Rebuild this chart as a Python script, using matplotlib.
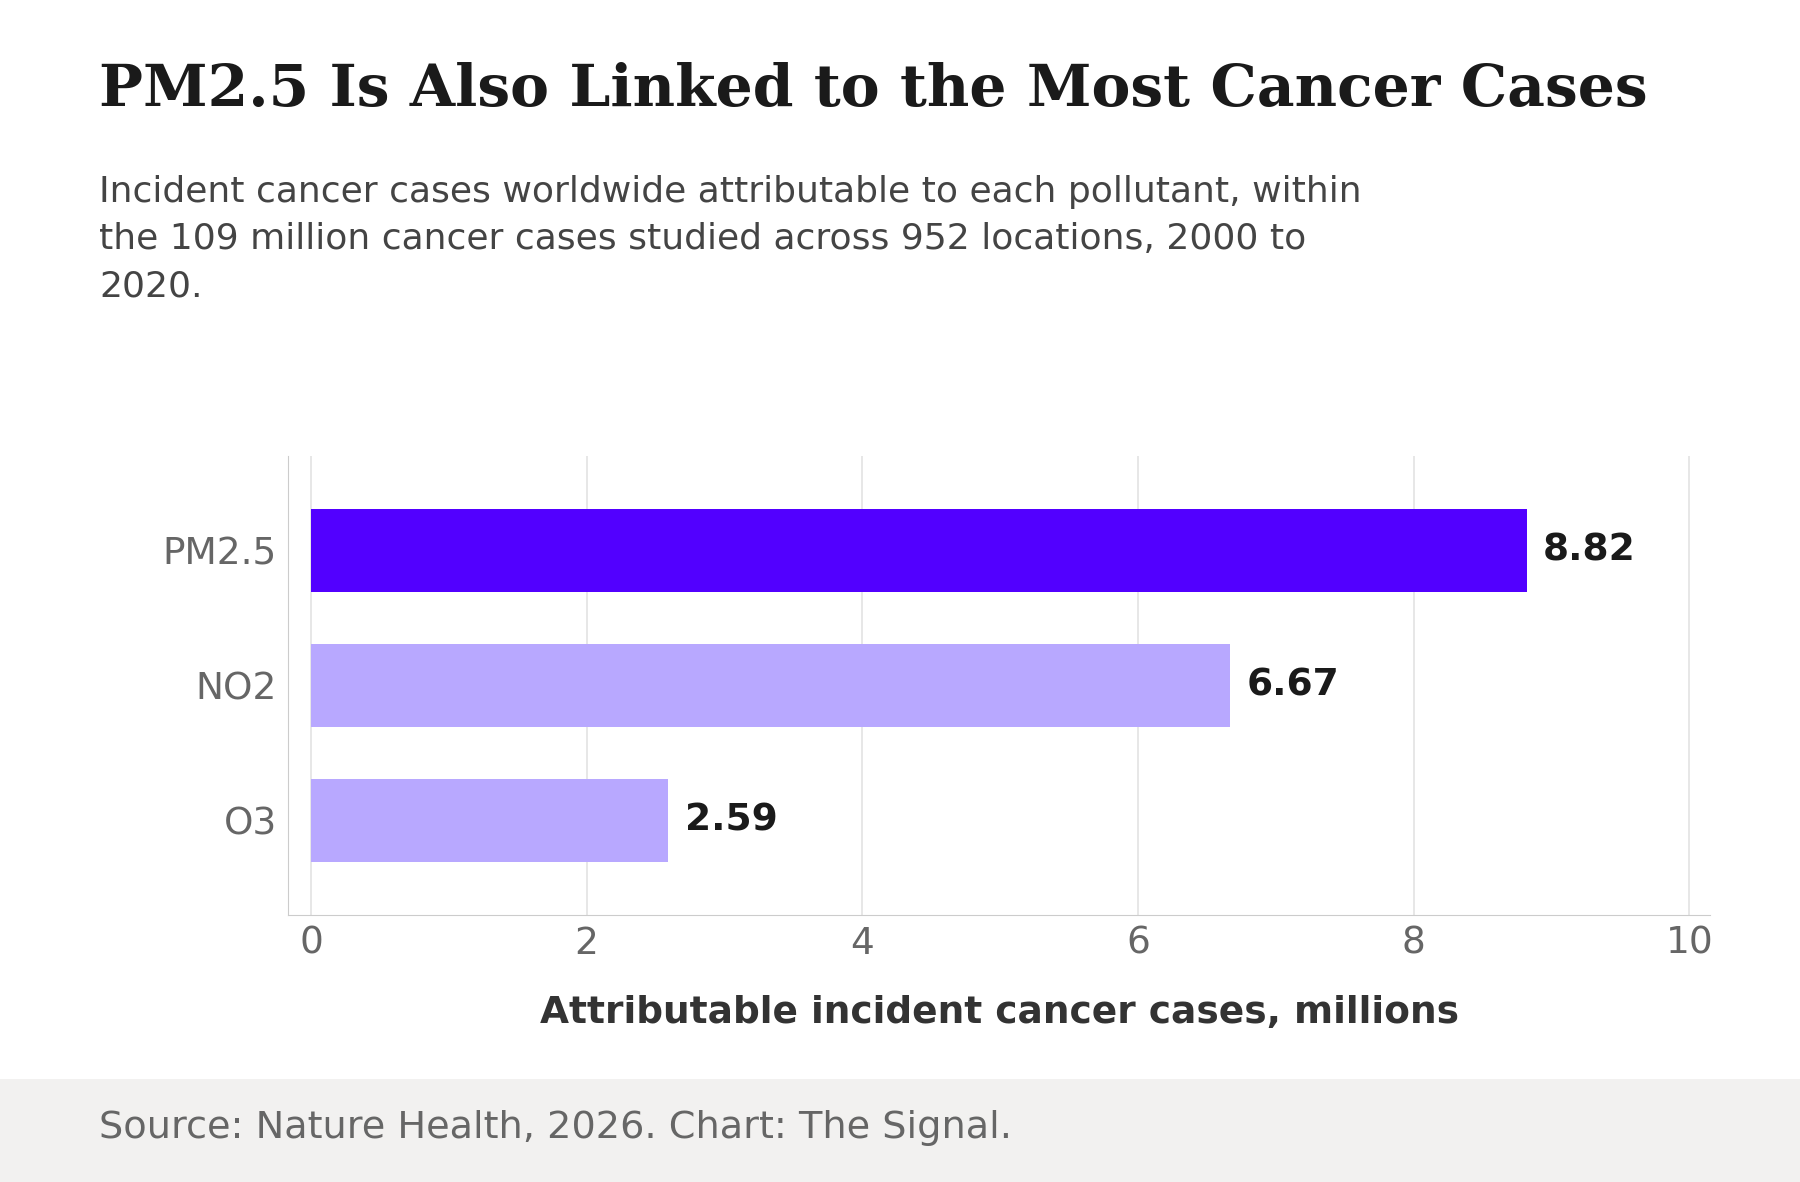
import matplotlib
matplotlib.use("Agg")
import matplotlib.pyplot as plt
from matplotlib.patches import Rectangle

categories = ["PM2.5", "NO2", "O3"]
values = [8.82, 6.67, 2.59]
colors = ["#5200ff", "#b8a8ff", "#b8a8ff"]
xticks = [0, 2, 4, 6, 8, 10]

fig = plt.figure(figsize=(18, 11.82), dpi=100)
fig.patches.append(Rectangle((0, 0), 1, 0.0874, transform=fig.transFigure,
                             facecolor="#f2f1f0", edgecolor="none", zorder=0))
ax = fig.add_axes([0.160, 0.226, 0.790, 0.388])
ypos = list(range(len(categories)))
ax.barh(ypos, values, height=0.615, color=colors, zorder=3)
for y, v in zip(ypos, values):
    ax.text(v + 0.12, y, f"{v:.2f}", va="center", ha="left", fontsize=27,
            fontweight="bold", color="#1a1a1a")
ax.set_yticks(ypos)
ax.set_yticklabels(categories)
ax.set_ylim(2.70, -0.70)
ax.set_xlim(-0.167, 10.15)
ax.set_xticks(xticks)
ax.set_xticklabels([str(t) for t in xticks])
ax.grid(axis="x", color="#e3e3e3", linewidth=1.2, zorder=0)
ax.tick_params(length=0, labelsize=27, labelcolor="#666666", pad=8)
for s in ["top", "right"]:
    ax.spines[s].set_visible(False)
for s in ["left", "bottom"]:
    ax.spines[s].set_color("#cccccc")
ax.set_xlabel("Attributable incident cancer cases, millions", fontsize=27,
              fontweight="bold", color="#333333", labelpad=24)

fig.text(0.055, 0.910, "PM2.5 Is Also Linked to the Most Cancer Cases",
         family="DejaVu Serif", fontweight="bold", fontsize=42, color="#1a1a1a",
         va="baseline")
fig.text(0.055, 0.852,
         "Incident cancer cases worldwide attributable to each pollutant, within\n"
         "the 109 million cancer cases studied across 952 locations, 2000 to\n2020.",
         fontsize=26, color="#444444", va="top", linespacing=1.5)
fig.text(0.055, 0.046, "Source: Nature Health, 2026. Chart: The Signal.",
         fontsize=27.5, color="#666666", va="center")
fig.savefig("out.png", dpi=100, facecolor="white")
